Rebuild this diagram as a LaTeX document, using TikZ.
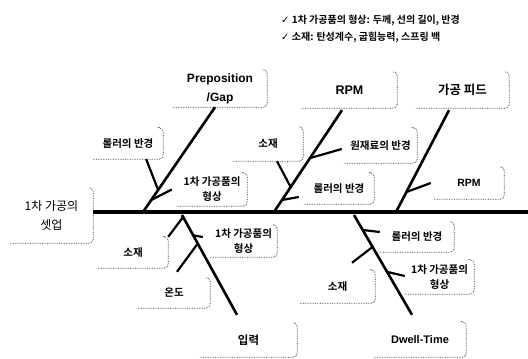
\documentclass[tikz,border=0pt]{standalone}
\usepackage{fontspec}
\setmainfont{Noto Sans CJK KR}[BoldFont={* Bold}]
\newfontfamily\latn{Liberation Sans}
\newfontfamily\symb{DejaVu Sans}
\usepackage{tikz}
\usetikzlibrary{positioning,calc}

\begin{document}
\begin{tikzpicture}[
	x=1pt, y=-1pt,
	head/.style={
		font=\fontsize{12}{19}\selectfont,
		align=center,
		inner sep=0pt
	},
	cat/.style={
		font=\fontsize{12.5}{19}\selectfont\bfseries,
		align=center,
		inner sep=0pt
	},
	eng/.style={
		font=\fontsize{12}{19}\selectfont\latn\bfseries,
		align=center,
		inner sep=0pt
	},
	sub/.style={
		font=\fontsize{10.5}{15}\selectfont\bfseries,
		align=center,
		inner sep=0pt
	},
	spine/.style={line width=3.8pt},
	bone/.style={line width=2.6pt},
	twig/.style={line width=2.2pt},
	edge/.style={densely dotted, line width=0.7pt, black!80, rounded corners=4pt}
	]
	\useasboundingbox (0,0) rectangle (528,359);

	\node[anchor=west, align=left, inner sep=0pt, font=\fontsize{10}{16.5}\selectfont\bfseries] at (281,29)
	(lg) {{\symb ✓} 1차 가공품의 형상: 두께, 선의 길이, 반경\\{\symb ✓} 소재: 탄성계수, 굽힘능력, 스프링 백};

	\node[head, minimum width=83, minimum height=55] at (51.5,215.5)
	(hd) {1차 가공의\\셋업};

	\node[eng, minimum width=94, minimum height=37] at (220,88.5)
	(pg) {Preposition\\/Gap};
	\node[eng, font=\fontsize{12.5}{19}\selectfont\latn\bfseries, minimum width=95, minimum height=36] at (349.5,90)
	(rpm1) {RPM};
	\node[cat, minimum width=93, minimum height=36] at (462.5,90)
	(fd) {가공 피드};
	\node[cat, font=\fontsize{11.5}{19}\selectfont\bfseries, minimum width=97, minimum height=34] at (248.5,340)
	(ip) {입력};
	\node[eng, font=\fontsize{11}{19}\selectfont\latn\bfseries, minimum width=92, minimum height=35] at (420,339.5)
	(dw) {Dwell-Time};

	\node[sub, minimum width=70, minimum height=31] at (128,143.5)
	(rl1) {롤러의 반경};
	\node[sub, minimum width=70, minimum height=34] at (268,144)
	(sj1) {소재};
	\node[sub, minimum width=73, minimum height=35] at (380.5,145.5)
	(wr) {원재료의 반경};
	\node[sub, minimum width=70, minimum height=33] at (212,189.5)
	(sh1) {1차 가공품의\\형상};
	\node[sub, minimum width=70, minimum height=31] at (339,188.5)
	(rl2) {롤러의 반경};
	\node[sub, font=\fontsize{10.5}{15}\selectfont\latn\bfseries, minimum width=70, minimum height=32] at (469,183)
	(rpm2) {RPM};

	\node[sub, minimum width=70, minimum height=31] at (133,252.5)
	(sj2) {소재};
	\node[sub, minimum width=67, minimum height=32] at (243.5,241)
	(sh2) {1차 가공품의\\형상};
	\node[sub, minimum width=72, minimum height=30] at (174,293)
	(on) {온도};
	\node[sub, minimum width=74, minimum height=30] at (417,237)
	(rl3) {롤러의 반경};
	\node[sub, minimum width=75, minimum height=33] at (337.5,286.5)
	(sj3) {소재};
	\node[sub, minimum width=69, minimum height=34] at (439.5,277)
	(sh3) {1차 가공품의\\형상};

	\foreach \n in {hd,pg,rpm1,fd,ip,dw,rl1,sj1,wr,sh1,rl2,rpm2,sj2,sh2,on,rl3,sj3,sh3}
		\draw[edge] (\n.south west) -- (\n.south east) -- (\n.north east) -- ++(-3,0);

	\coordinate (s1) at (528,212);
	\coordinate (j1) at (143,212);
	\coordinate (j2) at (274,212);
	\coordinate (j3) at (396,212);
	\coordinate (j4) at (182,215);
	\coordinate (j5) at (354,215);

	\draw[spine] (hd.east |- s1) -- (s1);

	\draw[bone] ([xshift=-5pt]pg.south) -- coordinate[pos=0.79] (a1) coordinate[pos=0.885] (a2) (j1);
	\draw[bone] ([xshift=-7.5pt,yshift=-2pt]rpm1.south) -- coordinate[pos=0.47] (b2) coordinate[pos=0.755] (b1) coordinate[pos=0.882] (b3) (j2);
	\draw[bone] ([xshift=-13.5pt,yshift=-2pt]fd.south) -- coordinate[pos=0.804] (d1) (j3);
	\draw[bone] (j4) -- coordinate[pos=0.02] (c1) coordinate[pos=0.204] (c2) coordinate[pos=0.286] (c3) ([xshift=-11.5pt,yshift=8pt]ip.north);
	\draw[bone] (j5) -- coordinate[pos=0.15] (e1) coordinate[pos=0.32] (e2) coordinate[pos=0.57] (e3) ([xshift=-8pt,yshift=7pt]dw.north);

	\draw[twig] ([xshift=-17pt]rl1.south east) -- (a1);
	\draw[twig] (a2) -- ([xshift=-5pt]sh1.west);
	\draw[twig] ([xshift=9pt]sj1.south) -- (b1);
	\draw[twig] (b2) -- ([xshift=-2pt,yshift=-3.5pt]wr.west);
	\draw[twig] (b3) -- ([xshift=-5pt,yshift=-8.5pt]rl2.west);
	\draw[twig] (d1) -- ([xshift=-3pt]rpm2.west);
	\draw[twig] (c1) -- (sj2.north east);
	\draw[twig] (c2) -- ([xshift=-7pt,yshift=4pt]sh2.west);
	\draw[twig] (c3) -- ([xshift=3pt,yshift=6pt]on.north);
	\draw[twig] (e1) -- ([yshift=5pt]rl3.west);
	\draw[twig] (e2) -- ([xshift=14.5pt,yshift=7pt]sj3.north);
	\draw[twig] (e3) -- ([yshift=1pt]sh3.west);

\end{tikzpicture}
\end{document}
